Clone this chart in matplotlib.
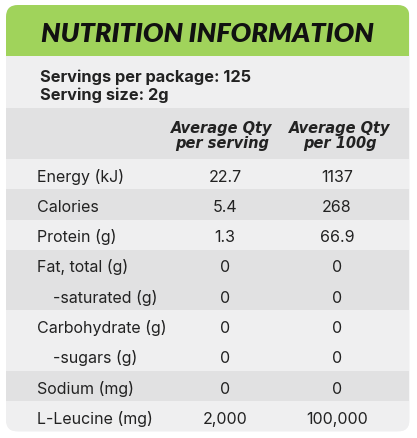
import matplotlib
matplotlib.use("Agg")
import matplotlib.pyplot as plt
from matplotlib.patches import FancyBboxPatch, Rectangle

# ---- data ----
title = "NUTRITION INFORMATION"
servings_lines = ["Servings per package: 125", "Serving size: 2g"]
col_headers = ["Average Qty\nper serving", "Average Qty\nper 100g"]
nutrients = ["Energy (kJ)", "Calories", "Protein (g)", "Fat, total (g)", "-saturated (g)",
             "Carbohydrate (g)", "-sugars (g)", "Sodium (mg)", "L-Leucine (mg)"]
per_serving = ["22.7", "5.4", "1.3", "0", "0", "0", "0", "0", "2,000"]
per_100g = ["1137", "268", "66.9", "0", "0", "0", "0", "0", "100,000"]
indented = [False, False, False, False, True, False, True, False, False]
shade_group = [0, 1, 0, 1, 1, 0, 0, 1, 0]  # 0 = light, 1 = darker

# ---- style ----
GREEN = "#a0d35b"
LIGHT = "#efeff0"
DARK = "#e1e1e2"
TXT = "#222222"
TFONT = ["Lato", "DejaVu Sans"]
BFONT = ["Inter", "DejaVu Sans"]
HFONT = ["DejaVu Sans"]

W, H = 417, 439
fig = plt.figure(figsize=(W / 100, H / 100), dpi=100)
ax = fig.add_axes([0, 0, 1, 1])
ax.set_xlim(0, W)
ax.set_ylim(H, 0)
ax.axis("off")
fig.patch.set_facecolor("white")

left, right, top, bottom = 6, 409.5, 6, 432.5
card = FancyBboxPatch((left, top), right - left, bottom - top,
                      boxstyle="round,pad=0,rounding_size=12",
                      facecolor=LIGHT, edgecolor="none", zorder=0)
ax.add_patch(card)

def band(y0, y1, color):
    r = Rectangle((left, y0), right - left, y1 - y0, facecolor=color,
                  edgecolor="none", zorder=1)
    ax.add_patch(r)
    r.set_clip_path(card)

# title band
title_bottom = 57
band(top, title_bottom, GREEN)
ax.text(207, 42, title, fontsize=19.5, fontweight="heavy",
        fontstyle="italic", family=TFONT, color="#111111", ha="center",
        va="baseline", zorder=3)

# servings block
serv_bottom = 109
band(title_bottom, serv_bottom, LIGHT)
for i, line in enumerate(servings_lines):
    ax.text(40, 82 + i * 18, line, fontsize=11.8, fontweight="bold",
            family=BFONT, color=TXT, ha="left", va="baseline", zorder=3)

# header row
head_bottom = 160
band(serv_bottom, head_bottom, DARK)
col_x = [222, 340]
for cx, hdr in zip(col_x, col_headers):
    l1, l2 = hdr.split("\n")
    ax.text(cx, 133, l1, fontsize=10.5, fontweight="bold", fontstyle="italic",
            family=HFONT, color=TXT, ha="center", va="baseline", zorder=3)
    ax.text(cx, 148, l2, fontsize=10.5, fontweight="bold", fontstyle="italic",
            family=HFONT, color=TXT, ha="center", va="baseline", zorder=3)

# rows
row_h = (bottom - head_bottom) / len(nutrients)
for i, (name, a, b) in enumerate(zip(nutrients, per_serving, per_100g)):
    y0 = head_bottom + i * row_h
    band(y0, y0 + row_h, DARK if shade_group[i] else LIGHT)
    yb = y0 + row_h / 2 + 6.5
    ax.text(53 if indented[i] else 37, yb, name, fontsize=11.5, family=BFONT,
            color=TXT, ha="left", va="baseline", zorder=3)
    ax.text(225, yb, a, fontsize=11.5, family=BFONT, color=TXT,
            ha="center", va="baseline", zorder=3)
    ax.text(337, yb, b, fontsize=11.5, family=BFONT, color=TXT,
            ha="center", va="baseline", zorder=3)

fig.savefig("out.png", dpi=100, facecolor="white")
